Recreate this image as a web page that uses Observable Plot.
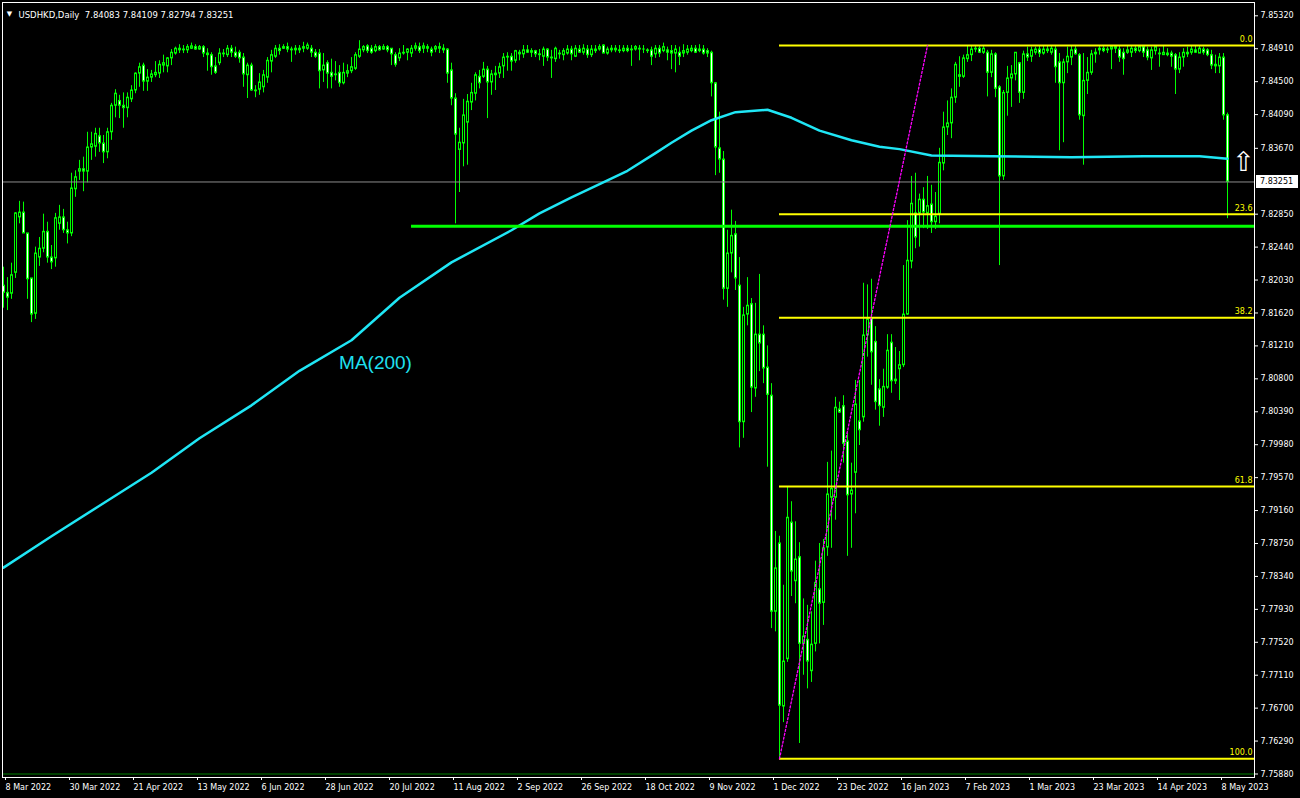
<!DOCTYPE html>
<html><head><meta charset="utf-8">
<script src="https://cdn.jsdelivr.net/npm/d3@7"></script>
<script src="https://cdn.jsdelivr.net/npm/@observablehq/plot@0.6"></script>
<style>html,body{margin:0;padding:0;background:#000;overflow:hidden}</style>
</head><body>
<script>
// ---------- data (USDHKD daily, bar index 0 = 8 Mar 2022) ----------
const openP = [
7.8196,7.8187,7.8186,7.8212,7.8281,7.8287,7.8261,7.8205,7.8161,7.8231,
7.8242,7.8263,7.8231,7.8230,7.8273,7.8281,7.8265,7.8261,7.8316,7.8338,
7.8341,7.8338,7.8368,7.8369,7.8382,7.8373,7.8362,7.8387,7.8420,7.8426,
7.8420,7.8417,7.8428,7.8439,7.8460,7.8470,7.8450,7.8455,7.8458,7.8460,
7.8470,7.8469,7.8479,7.8485,7.8491,7.8489,7.8489,7.8491,7.8493,7.8490,
7.8493,7.8485,7.8483,7.8469,7.8473,7.8485,7.8483,7.8491,7.8486,7.8486,
7.8480,7.8458,7.8470,7.8439,7.8440,7.8443,7.8455,7.8475,7.8481,7.8491,
7.8491,7.8493,7.8490,7.8489,7.8491,7.8491,7.8491,7.8491,7.8486,7.8485,
7.8464,7.8473,7.8461,7.8458,7.8461,7.8448,7.8460,7.8463,7.8466,7.8481,
7.8489,7.8494,7.8491,7.8488,7.8493,7.8490,7.8493,7.8491,7.8483,7.8479,
7.8485,7.8486,7.8485,7.8491,7.8493,7.8491,7.8493,7.8490,7.8490,7.8493,
7.8491,7.8490,7.8464,7.8429,7.8365,7.8373,7.8399,7.8424,7.8435,7.8456,
7.8456,7.8465,7.8449,7.8458,7.8460,7.8469,7.8480,7.8481,7.8476,7.8486,
7.8484,7.8489,7.8486,7.8488,7.8484,7.8481,7.8490,7.8480,7.8478,7.8485,
7.8483,7.8485,7.8490,7.8481,7.8490,7.8486,7.8490,7.8483,7.8490,7.8490,
7.8495,7.8485,7.8489,7.8491,7.8489,7.8488,7.8491,7.8490,7.8490,7.8491,
7.8490,7.8489,7.8489,7.8484,7.8491,7.8488,7.8489,7.8488,7.8485,7.8486,
7.8485,7.8486,7.8488,7.8491,7.8488,7.8490,7.8488,7.8486,7.8448,7.8367,
7.8353,7.8192,7.8236,7.8260,7.8196,7.8026,7.8160,7.8173,7.8068,7.8135,
7.8135,7.8094,7.8059,7.7790,7.7875,7.7672,7.7731,7.7901,7.7828,7.7858,
7.7750,7.7755,7.7716,7.7750,7.7818,7.7801,7.7870,7.7932,7.7932,7.8042,
7.8046,7.8002,7.7936,7.7963,7.8027,7.8032,7.8134,7.8155,7.8126,7.8067,
7.8044,7.8069,7.8125,7.8077,7.8092,7.8097,7.8160,7.8226,7.8286,7.8286,
7.8303,7.8286,7.8297,7.8275,7.8285,7.8348,7.8393,7.8398,7.8430,7.8458,
7.8456,7.8478,7.8483,7.8490,7.8491,7.8486,7.8486,7.8461,7.8484,7.8443,
7.8332,7.8436,7.8454,7.8459,7.8473,7.8436,7.8484,7.8481,7.8486,7.8490,
7.8485,7.8490,7.8486,7.8490,7.8474,7.8448,7.8474,7.8480,7.8490,7.8483,
7.8407,7.8451,7.8461,7.8484,7.8489,7.8491,7.8489,7.8490,7.8493,7.8490,
7.8486,7.8486,7.8486,7.8491,7.8488,7.8493,7.8489,7.8479,7.8488,7.8485,
7.8483,7.8485,7.8485,7.8483,7.8465,7.8480,7.8486,7.8486,7.8489,7.8485,
7.8490,7.8489,7.8483,7.8471,7.8469,7.8480,7.84083];
const highP = [
7.8219,7.8206,7.8224,7.8287,7.8301,7.8300,7.8261,7.8205,7.8244,7.8256,
7.8285,7.8275,7.8246,7.8286,7.8296,7.8291,7.8275,7.8336,7.8339,7.8352,
7.8356,7.8387,7.8387,7.8392,7.8392,7.8383,7.8392,7.8423,7.8440,7.8433,
7.8436,7.8436,7.8445,7.8461,7.8473,7.8473,7.8465,7.8464,7.8475,7.8476,
7.8483,7.8480,7.8490,7.8493,7.8496,7.8495,7.8496,7.8498,7.8496,7.8495,
7.8495,7.8491,7.8486,7.8480,7.8491,7.8490,7.8495,7.8495,7.8493,7.8489,
7.8485,7.8473,7.8473,7.8445,7.8460,7.8464,7.8480,7.8489,7.8495,7.8496,
7.8496,7.8498,7.8493,7.8495,7.8495,7.8499,7.8498,7.8495,7.8490,7.8490,
7.8485,7.8476,7.8478,7.8475,7.8470,7.8473,7.8471,7.8480,7.8486,7.8501,
7.8495,7.8496,7.8495,7.8496,7.8495,7.8496,7.8495,7.8491,7.8486,7.8491,
7.8495,7.8491,7.8495,7.8498,7.8498,7.8498,7.8496,7.8493,7.8495,7.8498,
7.8496,7.8491,7.8473,7.8435,7.8392,7.8428,7.8434,7.8448,7.8461,7.8464,
7.8474,7.8469,7.8464,7.8469,7.8473,7.8485,7.8486,7.8485,7.8489,7.8489,
7.8495,7.8495,7.8491,7.8489,7.8490,7.8493,7.8491,7.8489,7.8493,7.8489,
7.8491,7.8495,7.8494,7.8495,7.8495,7.8496,7.8495,7.8495,7.8495,7.8496,
7.8496,7.8493,7.8495,7.8495,7.8495,7.8495,7.8495,7.8495,7.8495,7.8495,
7.8495,7.8491,7.8493,7.8495,7.8495,7.8498,7.8493,7.8495,7.8495,7.8493,
7.8496,7.8495,7.8495,7.8495,7.8496,7.8495,7.8491,7.8488,7.8449,7.8412,
7.8363,7.8265,7.8290,7.8276,7.8231,7.8169,7.8206,7.8180,7.8174,7.8210,
7.8146,7.8121,7.8074,7.7890,7.7884,7.7823,7.7945,7.7927,7.7902,7.7876,
7.7806,7.7798,7.7790,7.7853,7.7875,7.7880,7.7976,7.7990,7.8057,7.8051,
7.8059,7.8012,7.7975,7.8078,7.8078,7.8199,7.8197,7.8204,7.8145,7.8079,
7.8092,7.8135,7.8135,7.8119,7.8114,7.8221,7.8277,7.8332,7.8336,7.8310,
7.8318,7.8332,7.8321,7.8312,7.8367,7.8412,7.8426,7.8441,7.8474,7.8481,
7.8483,7.8495,7.8495,7.8495,7.8495,7.8495,7.8489,7.8489,7.8486,7.8445,
7.8439,7.8469,7.8470,7.8486,7.8474,7.8488,7.8493,7.8493,7.8493,7.8495,
7.8495,7.8495,7.8495,7.8495,7.8485,7.8478,7.8493,7.8495,7.8495,7.8485,
7.8485,7.8480,7.8489,7.8491,7.8495,7.8495,7.8493,7.8495,7.8495,7.8495,
7.8491,7.8495,7.8495,7.8495,7.8495,7.8495,7.8493,7.8493,7.8495,7.8491,
7.8495,7.8491,7.8488,7.8485,7.8486,7.8491,7.8493,7.8495,7.8495,7.8495,
7.8493,7.8491,7.8489,7.8483,7.8485,7.8485,7.84109];
const lowP = [
7.8168,7.8165,7.8179,7.8205,7.8273,7.8261,7.8179,7.8150,7.8154,7.8220,
7.8237,7.8224,7.8216,7.8219,7.8265,7.8261,7.8248,7.8257,7.8306,7.8327,
7.8313,7.8324,7.8352,7.8356,7.8362,7.8348,7.8354,7.8377,7.8405,7.8404,
7.8392,7.8405,7.8424,7.8435,7.8443,7.8438,7.8438,7.8449,7.8455,7.8454,
7.8461,7.8461,7.8470,7.8483,7.8485,7.8485,7.8485,7.8490,7.8489,7.8489,
7.8480,7.8463,7.8458,7.8459,7.8470,7.8480,7.8480,7.8480,7.8479,7.8473,
7.8443,7.8429,7.8438,7.8430,7.8433,7.8436,7.8448,7.8461,7.8479,7.8483,
7.8490,7.8486,7.8474,7.8483,7.8485,7.8486,7.8489,7.8480,7.8479,7.8441,
7.8449,7.8441,7.8441,7.8451,7.8443,7.8446,7.8455,7.8460,7.8464,7.8479,
7.8486,7.8485,7.8484,7.8486,7.8488,7.8489,7.8486,7.8470,7.8468,7.8475,
7.8483,7.8476,7.8480,7.8488,7.8485,7.8485,7.8486,7.8481,7.8486,7.8485,
7.8485,7.8448,7.8420,7.8273,7.8312,7.8344,7.8346,7.8414,7.8426,7.8441,
7.8454,7.8404,7.8433,7.8439,7.8454,7.8454,7.8463,7.8463,7.8473,7.8476,
7.8479,7.8485,7.8480,7.8480,7.8476,7.8469,7.8475,7.8454,7.8474,7.8478,
7.8476,7.8483,7.8476,7.8480,7.8485,7.8483,7.8479,7.8480,7.8485,7.8488,
7.8485,7.8483,7.8486,7.8486,7.8485,7.8486,7.8486,7.8469,7.8488,7.8476,
7.8485,7.8485,7.8470,7.8479,7.8480,7.8486,7.8476,7.8465,7.8461,7.8470,
7.8480,7.8483,7.8486,7.8485,7.8486,7.8483,7.8480,7.8431,7.8333,7.8336,
7.8178,7.8169,7.8212,7.8190,7.7994,7.8006,7.8146,7.8038,7.8057,7.8089,
7.8074,7.7970,7.7769,7.7765,7.7607,7.7652,7.7727,7.7809,7.7800,7.7626,
7.7711,7.7694,7.7702,7.7740,7.7750,7.7773,7.7859,7.7869,7.7904,7.8037,
7.7975,7.7859,7.7869,7.7912,7.7997,7.8026,7.8107,7.8072,7.8041,7.8021,
7.8032,7.8067,7.8062,7.8073,7.8053,7.8094,7.8159,7.8217,7.8242,7.8244,
7.8267,7.8266,7.8261,7.8266,7.8273,7.8339,7.8383,7.8379,7.8423,7.8443,
7.8454,7.8474,7.8475,7.8486,7.8485,7.8484,7.8431,7.8455,7.8430,7.8221,
7.8327,7.8407,7.8418,7.8451,7.8423,7.8428,7.8475,7.8474,7.8483,7.8480,
7.8483,7.8485,7.8483,7.8448,7.8364,7.8374,7.8460,7.8470,7.8483,7.8402,
7.8346,7.8434,7.8458,7.8473,7.8483,7.8486,7.8485,7.8465,7.8485,7.8474,
7.8458,7.8484,7.8480,7.8485,7.8486,7.8480,7.8476,7.8464,7.8483,7.8468,
7.8483,7.8481,7.8468,7.8434,7.8460,7.8468,7.8480,7.8483,7.8485,7.8485,
7.8483,7.8481,7.8465,7.8460,7.8460,7.8402,7.82794];
const closeP = [
7.8187,7.8181,7.8209,7.8286,7.8287,7.8261,7.8204,7.8160,7.8236,7.8242,
7.8263,7.8231,7.8225,7.8280,7.8281,7.8265,7.8261,7.8317,7.8331,7.8341,
7.8338,7.8368,7.8372,7.8385,7.8373,7.8362,7.8387,7.8420,7.8435,7.8420,
7.8417,7.8430,7.8439,7.8460,7.8468,7.8450,7.8455,7.8459,7.8461,7.8471,
7.8473,7.8479,7.8486,7.8491,7.8489,7.8490,7.8493,7.8494,7.8490,7.8493,
7.8485,7.8483,7.8468,7.8461,7.8485,7.8484,7.8491,7.8486,7.8481,7.8479,
7.8459,7.8470,7.8439,7.8438,7.8449,7.8458,7.8476,7.8483,7.8491,7.8488,
7.8493,7.8490,7.8489,7.8491,7.8489,7.8493,7.8495,7.8486,7.8481,7.8463,
7.8470,7.8460,7.8456,7.8459,7.8448,7.8461,7.8463,7.8468,7.8483,7.8490,
7.8493,7.8488,7.8486,7.8493,7.8489,7.8493,7.8489,7.8484,7.8471,7.8485,
7.8486,7.8490,7.8491,7.8494,7.8488,7.8494,7.8491,7.8486,7.8493,7.8491,
7.8489,7.8460,7.8429,7.8384,7.8374,7.8408,7.8425,7.8436,7.8458,7.8448,
7.8465,7.8449,7.8459,7.8460,7.8468,7.8480,7.8481,7.8475,7.8488,7.8484,
7.8489,7.8486,7.8488,7.8484,7.8483,7.8490,7.8480,7.8479,7.8491,7.8484,
7.8488,7.8490,7.8484,7.8491,7.8486,7.8491,7.8483,7.8490,7.8488,7.8493,
7.8485,7.8490,7.8491,7.8489,7.8488,7.8491,7.8488,7.8489,7.8493,7.8490,
7.8490,7.8488,7.8481,7.8491,7.8485,7.8493,7.8486,7.8485,7.8490,7.8481,
7.8488,7.8490,7.8491,7.8486,7.8490,7.8485,7.8485,7.8448,7.8368,7.8353,
7.8192,7.8236,7.8258,7.8205,7.8026,7.8159,7.8171,7.8069,7.8135,7.8124,
7.8093,7.8060,7.7790,7.7844,7.7673,7.7728,7.7907,7.7840,7.7855,7.7750,
7.7759,7.7728,7.7749,7.7826,7.7800,7.7869,7.7936,7.7943,7.8044,7.8038,
7.7999,7.7935,7.7941,7.8048,7.8016,7.8134,7.8154,7.8113,7.8051,7.8046,
7.8070,7.8115,7.8077,7.8079,7.8097,7.8160,7.8227,7.8298,7.8256,7.8303,
7.8287,7.8295,7.8275,7.8282,7.8349,7.8393,7.8398,7.8430,7.8471,7.8456,
7.8479,7.8483,7.8490,7.8491,7.8486,7.8491,7.8461,7.8484,7.8441,7.8332,
7.8436,7.8454,7.8459,7.8486,7.8436,7.8484,7.8480,7.8489,7.8490,7.8485,
7.8490,7.8488,7.8491,7.8468,7.8448,7.8474,7.8481,7.8489,7.8484,7.8408,
7.8451,7.8461,7.8484,7.8486,7.8491,7.8488,7.8490,7.8493,7.8491,7.8480,
7.8478,7.8489,7.8491,7.8488,7.8493,7.8486,7.8480,7.8489,7.8493,7.8484,
7.8486,7.8483,7.8481,7.8465,7.8480,7.8486,7.8484,7.8490,7.8486,7.8491,
7.8486,7.8483,7.8470,7.8469,7.8480,7.8408,7.83251];

const tickBars = [0,16,32,48,64,80,96,112,128,144,160,176,192,208,224,240,256,272,288,304];
const tickLabels = ["8 Mar 2022","30 Mar 2022","21 Apr 2022","13 May 2022","6 Jun 2022","28 Jun 2022","20 Jul 2022","11 Aug 2022","2 Sep 2022","26 Sep 2022","18 Oct 2022","9 Nov 2022","1 Dec 2022","23 Dec 2022","16 Jan 2023","7 Feb 2023","1 Mar 2023","23 Mar 2023","14 Apr 2023","8 May 2023"];
const priceTicks = [7.85320,7.84910,7.84500,7.84090,7.83670,7.82850,7.82440,7.82030,7.81620,7.81210,7.80800,7.80390,7.79980,7.79570,7.79160,7.78750,7.78340,7.77930,7.77520,7.77110,7.76700,7.76290,7.75880];

const maBars   = [0,12,24,37,49,62,74,87,99,112,127,134,142,151,156,163,167,172,177,183,191,197,204,212,219,224,232,247,267,285,299,306];
const maValues = [7.7845,7.7884,7.7922,7.7963,7.8006,7.8047,7.8090,7.8128,7.8181,7.8225,7.8265,7.8286,7.8306,7.8327,7.8339,7.8361,7.8374,7.8389,7.8402,7.8412,7.8415,7.8405,7.8389,7.8377,7.8369,7.8366,7.8358,7.8357,7.8356,7.8357,7.8357,7.8354];

const fibLabels = ["0.0","23.6","38.2","61.8","100.0"];
const fibPrices = [7.8495,7.8285,7.8156,7.7946,7.7607];
const fibStartBar = 194;
const trendBars = [194, 231];
const trendPrices = [7.7607, 7.8495];
const supportLevel = 7.8270, supportStartBar = 102;
const baseLevel = 7.75880;
const lastPrice = 7.83251;
const headerText = "USDHKD,Daily  7.84083 7.84109 7.82794 7.83251";
const maLabel = {bar: 93, price: 7.8100, text: "MA(200)"};
const arrowMark = {bar: 310, price: 7.8350};

// ---------- derived tables ----------
const candles = openP.map((o, i) => {
  const c = closeP[i];
  return {i, o, h: highP[i], l: lowP[i], c, top: Math.max(o, c), bot: Math.min(o, c), bull: c >= o};
});
const bodies = candles.filter(d => d.top - d.bot > 0.00026);
const ma = maBars.map((b, k) => ({i: b, v: maValues[k]}));
const fib = fibLabels.map((t, k) => ({t, p: fibPrices[k]}));
const trend = trendBars.map((b, k) => ({i: b, p: trendPrices[k]}));

const FONT = "DejaVu Sans, Verdana, sans-serif";
const LIME = "#00ff00";
const XMAX = 312.75;

const priceBox = (index, scales, values, dims) => {
  const y = Math.round(scales.y(lastPrice));
  const x0 = dims.width - dims.marginRight + 2;
  const g = d3.create("svg:g");
  g.append("rect").attr("x", x0).attr("y", y - 6).attr("width", 42).attr("height", 13).attr("fill", "white");
  g.append("text").attr("x", x0 + 4).attr("y", y + 0.5).attr("dy", "0.35em")
    .attr("text-anchor", "start")
    .attr("fill", "black").attr("font-size", 8).attr("font-family", FONT).text(lastPrice.toFixed(5));
  return g.node();
};

const chart = Plot.plot({
  width: 1300, height: 798,
  marginLeft: 2, marginTop: 2, marginRight: 46, marginBottom: 21,
  style: {background: "black", color: "white", fontFamily: FONT, fontSize: "8px"},
  x: {domain: [0, 313], range: [3, 1255], label: null},
  y: {domain: [7.85320, 7.75880], range: [15.3, 773.5], label: null},
  marks: [
    Plot.ruleY([baseLevel], {stroke: "#008000"}),
    // candles
    Plot.ruleX(candles, {x: "i", y1: "h", y2: "l", stroke: LIME, strokeWidth: 1}),
    Plot.ruleX(candles, {x: "i", y1: "top", y2: "bot", stroke: LIME, strokeWidth: 3, insetTop: -0.5, insetBottom: -0.5}),
    Plot.ruleX(bodies.filter(d => d.bull), {x: "i", y1: "top", y2: "bot", stroke: "black", strokeWidth: 1, insetTop: 1, insetBottom: 1}),
    Plot.ruleX(bodies.filter(d => !d.bull), {x: "i", y1: "top", y2: "bot", stroke: "white", strokeWidth: 1, insetTop: 1, insetBottom: 1}),
    // current price line
    Plot.ruleY([lastPrice], {stroke: "#8c8c8c"}),
    // MA(200)
    Plot.line(ma, {x: "i", y: "v", stroke: "#1fe6f5", strokeWidth: 2.5}),
    Plot.text([maLabel], {x: "bar", y: "price", text: "text", fill: "#1fe0f0", fontSize: 19, fontFamily: "Liberation Sans, Arial, sans-serif"}),
    // support line
    Plot.ruleY([supportLevel], {x1: supportStartBar, x2: XMAX, stroke: LIME, strokeWidth: 3}),
    // fibonacci
    Plot.ruleY(fib, {y: "p", x1: fibStartBar, x2: XMAX, stroke: "#ffff00", strokeWidth: 2}),
    Plot.text(fib, {x: XMAX, y: "p", text: "t", textAnchor: "end", dx: -2, dy: -6, fill: "#ffff00", fontSize: 8}),
    Plot.line(trend, {x: "i", y: "p", stroke: "#ff00ff", strokeWidth: 1.3, strokeDasharray: "2,2"}),
    // arrow
    Plot.text([arrowMark], {x: "bar", y: "price", text: () => "\u21E7", fill: "white", fontSize: 27, fontFamily: FONT, clip: false}),
    // header
    Plot.text([headerText], {frameAnchor: "top-left", text: d => d, dx: 16, dy: 9, fill: "white", fontSize: 8.5, textAnchor: "start"}),
    Plot.text(["\u25BC"], {frameAnchor: "top-left", text: d => d, dx: 7, dy: 9, fill: "white", fontSize: 7, textAnchor: "middle"}),
    // axes
    Plot.axisY(priceTicks, {anchor: "right", tickSize: 3, tickPadding: 3, tickFormat: d => d.toFixed(5), color: "white", fontSize: 8, label: null}),
    Plot.axisX(tickBars, {anchor: "bottom", tickSize: 3, tickPadding: 4, tickFormat: d => tickLabels[tickBars.indexOf(d)], textAnchor: "start", dx: 2, color: "white", fontSize: 8, label: null}),
    Plot.frame({stroke: "white"}),
    priceBox
  ]
});
document.body.appendChild(chart);
</script>
</body></html>
